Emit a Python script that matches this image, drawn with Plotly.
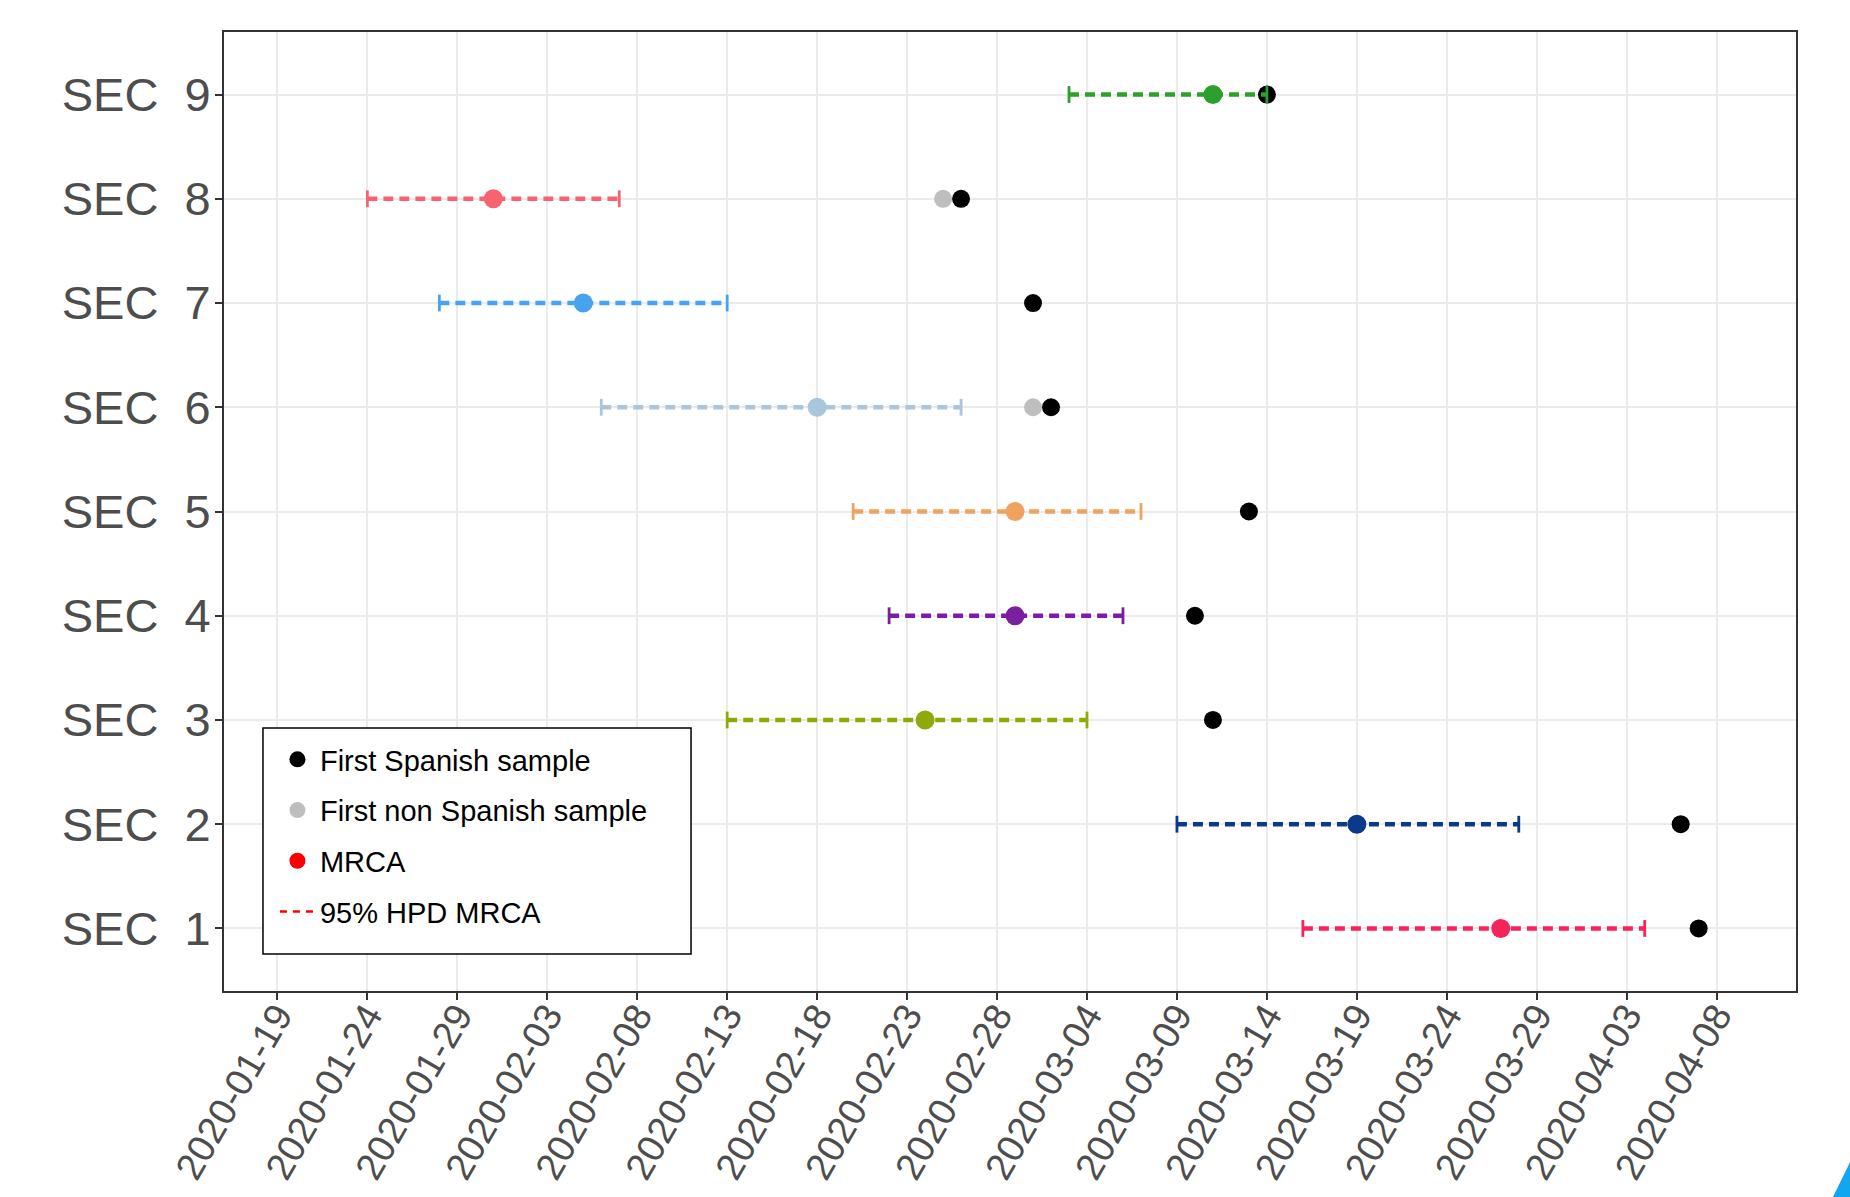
import plotly.graph_objects as go

# ---------------- data ----------------
sec_labels = ["SEC\u00a0\u00a01", "SEC\u00a0\u00a02", "SEC\u00a0\u00a03", "SEC\u00a0\u00a04", "SEC\u00a0\u00a05",
              "SEC\u00a0\u00a06", "SEC\u00a0\u00a07", "SEC\u00a0\u00a08", "SEC\u00a0\u00a09"]
sec_pos = [1, 2, 3, 4, 5, 6, 7, 8, 9]

hpd_low = ["2020-03-16", "2020-03-09", "2020-02-13", "2020-02-22", "2020-02-20",
           "2020-02-06", "2020-01-28", "2020-01-24", "2020-03-03"]
mrca = ["2020-03-27", "2020-03-19", "2020-02-24", "2020-02-29", "2020-02-29",
        "2020-02-18", "2020-02-05", "2020-01-31", "2020-03-11"]
hpd_high = ["2020-04-04", "2020-03-28", "2020-03-04", "2020-03-06", "2020-03-07",
            "2020-02-26", "2020-02-13", "2020-02-07", "2020-03-14"]
first_spanish = ["2020-04-07", "2020-04-06", "2020-03-11", "2020-03-10", "2020-03-13",
                 "2020-03-02", "2020-03-01", "2020-02-26", "2020-03-14"]
first_non_spanish = [None, None, None, None, None,
                     "2020-03-01", None, "2020-02-25", None]

sec_colors = ["#f5245a", "#0b3a8a", "#8fa80c", "#7a1fa0", "#f0a35e",
              "#a9c6da", "#48a3ee", "#f8636f", "#2ca02c"]

legend_names = ["First Spanish sample", "First non Spanish sample", "MRCA", "95% HPD MRCA"]

FONT = "Liberation Sans, Arial, sans-serif"

fig = go.Figure()

# grey points (first non Spanish sample)
gx = [d for d in first_non_spanish if d is not None]
gy = [p for d, p in zip(first_non_spanish, sec_pos) if d is not None]
fig.add_trace(go.Scatter(x=gx, y=gy, mode="markers",
                         marker=dict(color="#bebebe", size=18),
                         showlegend=False, hoverinfo="skip"))
# black points (first Spanish sample)
fig.add_trace(go.Scatter(x=first_spanish, y=sec_pos, mode="markers",
                         marker=dict(color="#000000", size=18),
                         showlegend=False, hoverinfo="skip"))

# HPD dashed segments with end caps, then MRCA point
for i in range(len(sec_pos)):
    c = sec_colors[i]
    fig.add_trace(go.Scatter(x=[hpd_low[i], hpd_high[i]], y=[sec_pos[i], sec_pos[i]],
                             mode="lines", line=dict(color=c, width=4.5, dash="10px,6px"),
                             showlegend=False, hoverinfo="skip"))
    fig.add_trace(go.Scatter(x=[hpd_low[i], hpd_high[i]], y=[sec_pos[i], sec_pos[i]],
                             mode="markers",
                             marker=dict(symbol="line-ns", size=12, color=c,
                                         line=dict(color=c, width=2.8)),
                             showlegend=False, hoverinfo="skip"))
for i in range(len(sec_pos)):
    fig.add_trace(go.Scatter(x=[mrca[i]], y=[sec_pos[i]], mode="markers",
                             marker=dict(color=sec_colors[i], size=19),
                             showlegend=False, hoverinfo="skip"))

# legend-only traces
fig.add_trace(go.Scatter(x=[None], y=[None], mode="markers", name=legend_names[0],
                         marker=dict(color="#000000", size=16), legendgroup="a"))
fig.add_trace(go.Scatter(x=[None], y=[None], mode="markers", name=legend_names[1],
                         marker=dict(color="#bebebe", size=16), legendgroup="b"))
fig.add_trace(go.Scatter(x=[None], y=[None], mode="markers", name=legend_names[2],
                         marker=dict(color="#ff0000", size=16), legendgroup="c"))
fig.add_trace(go.Scatter(x=[None], y=[None], mode="lines", name=legend_names[3],
                         line=dict(color="#ff0000", width=2.5, dash="7px,6px"), legendgroup="d"))

fig.update_layout(
    width=1850, height=1197,
    margin=dict(l=224, r=54, t=32, b=206, autoexpand=False),
    paper_bgcolor="white", plot_bgcolor="white",
    font=dict(family=FONT, color="#000000"),
    showlegend=True,
    legend=dict(x=0.0324, y=0.268, xanchor="left", yanchor="top",
                bgcolor="rgba(0,0,0,0)", borderwidth=0,
                font=dict(size=29, family=FONT, color="#000000"),
                traceorder="grouped", tracegroupgap=10,
                itemwidth=35),
    xaxis=dict(
        type="date", automargin=False,
        range=["2020-01-16 00:43", "2020-04-12 09:50"],
        tick0="2020-01-19", dtick=5 * 86400000, tickformat="%Y-%m-%d",
        tickangle=-60, tickfont=dict(size=38, family=FONT, color="#4d4d4d"),
        ticklabelstandoff=-22,
        showgrid=True, gridcolor="#ebebeb", gridwidth=1.8,
        showline=True, linecolor="#333333", linewidth=2, mirror=True,
        ticks="outside", ticklen=7, tickwidth=1.8, tickcolor="#333333",
        zeroline=False,
    ),
    yaxis=dict(
        automargin=False,
        range=[0.4, 9.6],
        tickvals=sec_pos, ticktext=sec_labels,
        tickfont=dict(size=47, family=FONT, color="#4d4d4d"),
        ticklabelstandoff=-5,
        showgrid=True, gridcolor="#ebebeb", gridwidth=1.8,
        showline=True, linecolor="#333333", linewidth=2, mirror=True,
        ticks="outside", ticklen=7, tickwidth=1.8, tickcolor="#333333",
        zeroline=False,
    ),
    shapes=[
        dict(type="rect", xref="paper", yref="paper", layer="above",
             x0=0.0248, x1=0.2971, y0=0.0386, y1=0.2742,
             fillcolor="white", line=dict(color="#000000", width=1.5)),
        dict(type="path", xref="paper", yref="paper",
             path="M 1.0235,-0.2148 L 1.0344,-0.1783 L 1.0344,-0.2148 Z",
             fillcolor="#12a5f0", line=dict(width=0)),
    ],
)

fig.write_html("out.html")
